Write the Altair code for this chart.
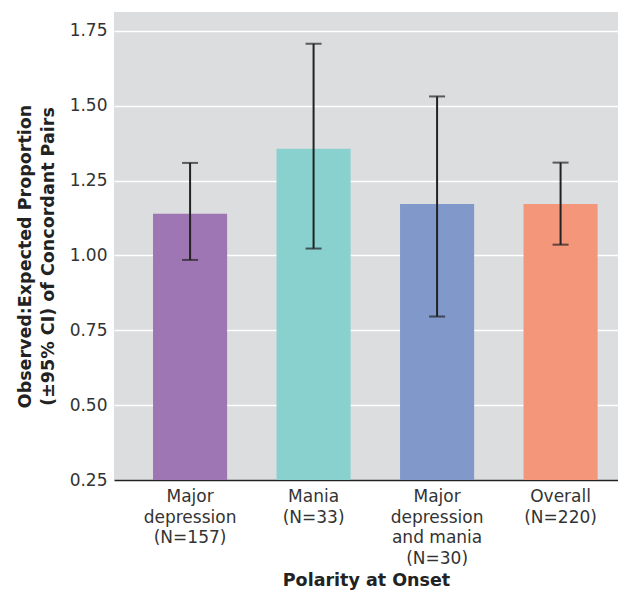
import altair as alt
import pandas as pd

categories = ["Major|depression|(N=157)", "Mania|(N=33)", "Major|depression|and mania|(N=30)", "Overall|(N=220)"]
ratio = [1.139, 1.356, 1.172, 1.172]
ci_low = [0.985, 1.023, 0.796, 1.036]
ci_high = [1.309, 1.707, 1.531, 1.310]
colors = ["#9d76b3", "#88d1cf", "#8098ca", "#f4967a"]

df = pd.DataFrame({"cat": categories, "ratio": ratio, "lo": ci_low, "hi": ci_high, "color": colors})

FONT = "DejaVu Sans"
ink = "#222222"
grey_text = "#333333"

x = alt.X("cat:N", sort=categories,
          scale=alt.Scale(paddingInner=0.4, paddingOuter=0.2405, align=0.657),
          axis=alt.Axis(title="Polarity at Onset", labelAngle=0,
                        labelExpr="split(datum.value, '|')",
                        labelLineHeight=20.5, labelFontSize=17, labelColor=grey_text,
                        labelFont=FONT, labelPadding=8.6, ticks=False,
                        domain=True, domainColor=ink, domainWidth=1.5, grid=False,
                        titleFont=FONT, titleFontSize=17.5, titleFontWeight="bold",
                        titleColor=ink, titleBaseline="alphabetic", titleY=105))

yscale = alt.Scale(domain=[0.25, 1.813], nice=False, zero=False)

bars = alt.Chart(df).mark_bar().encode(
    x=x,
    y=alt.Y("ratio:Q", scale=yscale,
            axis=alt.Axis(values=[0.25, 0.5, 0.75, 1.0, 1.25, 1.5, 1.75], format=".2f",
                          title=["Observed:Expected Proportion", "(±95% CI) of Concordant Pairs"],
                          labelFont=FONT, labelFontSize=17, labelColor=grey_text,
                          labelPadding=7, ticks=False, domain=False,
                          grid=True, gridColor="white", gridWidth=1.5,
                          titleFont=FONT, titleFontSize=17.5, titleFontWeight="bold",
                          titleColor=ink, titleLineHeight=23, titleBaseline="alphabetic",
                          titleX=-84, titleY=244)),
    y2=alt.datum(0.25),
    color=alt.Color("color:N", scale=None),
)

rules = alt.Chart(df).mark_rule(color=ink, strokeWidth=2).encode(
    x=alt.X("cat:N", sort=categories), y="lo:Q", y2="hi:Q")

cap_hi = alt.Chart(df).mark_tick(color=ink, thickness=2, size=16).encode(
    x=alt.X("cat:N", sort=categories), y="hi:Q")
cap_lo = alt.Chart(df).mark_tick(color=ink, thickness=2, size=16).encode(
    x=alt.X("cat:N", sort=categories), y="lo:Q")

chart = alt.layer(bars, rules, cap_hi, cap_lo).properties(
    width=504, height=468,
    autosize=alt.AutoSizeParams(type="none"),
    padding={"left": 106, "top": 4, "right": 0, "bottom": 110},
    background="white",
).configure_view(fill="#dcdddf", strokeWidth=0)

chart.save("out.html", embed_options={"renderer": "svg", "actions": False})
